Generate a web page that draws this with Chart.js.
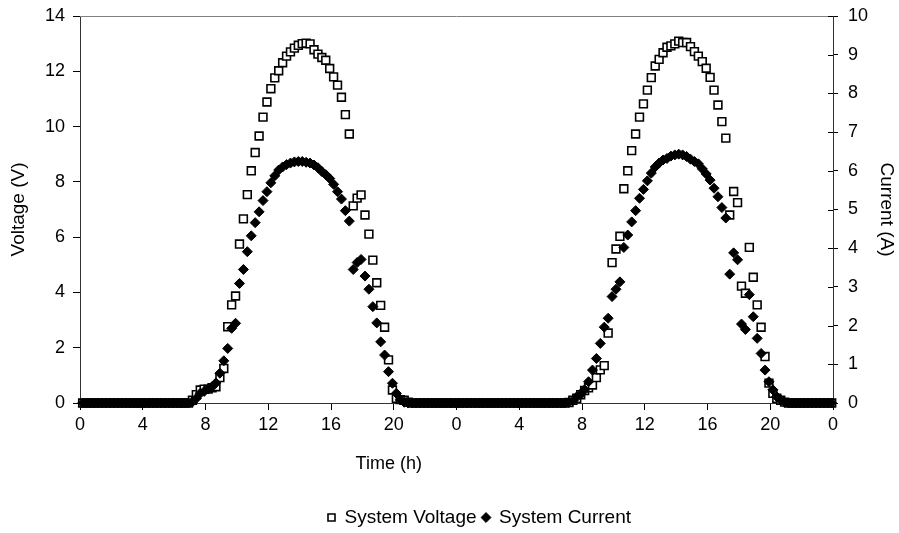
<!DOCTYPE html>
<html>
<head>
<meta charset="utf-8">
<script src="https://cdn.jsdelivr.net/npm/chart.js@4.4.1/dist/chart.umd.min.js"></script>
<style>
  html, body { margin: 0; padding: 0; background: #fff; }
  #wrap { width: 899px; height: 533px; }
</style>
</head>
<body>
<div id="wrap"><canvas id="chart" width="899" height="533"></canvas></div>
<script>
// ------------------ DATA ------------------
// logger samples every 15 min, first sample at 0:10, two days of readings
const firstSampleHour = 10 / 60;
const sampleStepHours = 0.25;

const voltageDay1 = [
  0, 0, 0, 0, 0, 0, 0, 0, 0, 0, 0, 0, 0, 0, 0, 0, 0, 0, 0, 0, 0, 0, 0, 0, 0, 0, 0, 0,
  0.1, 0.3, 0.47, 0.5, 0.5, 0.55, 0.59, 0.92, 1.25, 2.76, 3.55, 3.87, 5.75, 6.66,
  7.54, 8.4, 9.06, 9.66, 10.34, 10.89, 11.37, 11.76, 12.02, 12.31, 12.55, 12.7, 12.84, 12.94,
  13.0, 13.02, 12.99, 12.78, 12.62, 12.5, 12.4, 12.1, 11.8, 11.5, 11.06, 10.43, 9.73, 7.13,
  7.41, 7.53, 6.8, 6.11, 5.17, 4.35, 3.53, 2.74, 1.56, 0.47, 0.17, 0.12, 0.1, 0.03,
  0, 0, 0, 0, 0, 0, 0, 0, 0, 0, 0, 0
];
const currentDay1 = [
  0, 0, 0, 0, 0, 0, 0, 0, 0, 0, 0, 0, 0, 0, 0, 0, 0, 0, 0, 0, 0, 0, 0, 0, 0, 0, 0, 0,
  0.03, 0.12, 0.25, 0.3, 0.36, 0.42, 0.52, 0.77, 1.09, 1.41, 1.93, 2.06, 3.09, 3.45,
  3.91, 4.32, 4.66, 4.94, 5.23, 5.46, 5.69, 5.87, 6.02, 6.1, 6.16, 6.2, 6.23, 6.24,
  6.24, 6.22, 6.2, 6.15, 6.08, 5.98, 5.9, 5.8, 5.65, 5.46, 5.27, 4.97, 4.7, 3.45,
  3.63, 3.71, 3.28, 2.94, 2.49, 2.07, 1.58, 1.24, 0.81, 0.51, 0.25, 0.08, 0.02, 0,
  0, 0, 0, 0, 0, 0, 0, 0, 0, 0, 0, 0
];
const voltageDay2 = [
  0, 0, 0, 0, 0, 0, 0, 0, 0, 0, 0, 0, 0, 0, 0, 0, 0, 0, 0, 0, 0, 0, 0, 0, 0, 0, 0, 0,
  0.02, 0.1, 0.17, 0.3, 0.45, 0.55, 0.65, 0.92, 1.2, 1.35, 2.53, 5.08, 5.57, 6.03,
  7.75, 8.4, 9.13, 9.73, 10.34, 10.82, 11.32, 11.77, 12.19, 12.43, 12.67, 12.87, 12.92, 12.99,
  13.09, 13.04, 13.04, 12.89, 12.71, 12.55, 12.35, 12.11, 11.78, 11.32, 10.78, 10.18, 9.58, 6.8,
  7.65, 7.25, 4.23, 3.97, 5.63, 4.55, 3.55, 2.74, 1.68, 0.72, 0.35, 0.17, 0.1, 0.03,
  0, 0, 0, 0, 0, 0, 0, 0, 0, 0, 0, 0
];
const currentDay2 = [
  0, 0, 0, 0, 0, 0, 0, 0, 0, 0, 0, 0, 0, 0, 0, 0, 0, 0, 0, 0, 0, 0, 0, 0, 0, 0, 0, 0,
  0.02, 0.06, 0.16, 0.22, 0.34, 0.55, 0.85, 1.15, 1.54, 1.96, 2.19, 2.75, 2.94, 3.13,
  4.02, 4.34, 4.68, 4.97, 5.29, 5.52, 5.74, 5.94, 6.1, 6.2, 6.28, 6.32, 6.38, 6.41,
  6.43, 6.41, 6.37, 6.3, 6.24, 6.18, 6.05, 5.92, 5.76, 5.55, 5.33, 5.05, 4.78, 3.33,
  3.88, 3.7, 2.04, 1.9, 2.8, 2.23, 1.67, 1.28, 0.85, 0.55, 0.34, 0.16, 0.08, 0.02,
  0, 0, 0, 0, 0, 0, 0, 0, 0, 0, 0, 0
];

const xTicks = [0, 4, 8, 12, 16, 20, 24, 28, 32, 36, 40, 44, 48];
const voltageTicks = [0, 2, 4, 6, 8, 10, 12, 14];
const currentTicks = [0, 1, 2, 3, 4, 5, 6, 7, 8, 9, 10];

const seriesNames = ["System Voltage", "System Current"];
const xTitle = "Time (h)";

// ------------------ BUILD POINTS ------------------
const voltage = [...voltageDay1, ...voltageDay2];
const current = [...currentDay1, ...currentDay2];

function toPoints(values) {
  return values.map((v, i) => ({ x: firstSampleHour + i * sampleStepHours, y: v }));
}

const FONT_FAMILY = "'Liberation Sans', Arial, Helvetica, sans-serif";
const FONT = { family: FONT_FAMILY, size: 18 };
const TITLE_FONT = { family: FONT_FAMILY, size: 19 };
const LEGEND_FONT = { family: FONT_FAMILY, size: 19 };

// plot frame top line, inward half of right ticks, x title (sits left of centre like the original)
const frameLines = {
  id: "frameLines",
  afterLayout(chart) {
    // legend in the original sits a bit right of centre and lower
    chart.legend.left += 30;
    chart.legend.right += 30;
    chart.legend.top += 4;
    chart.legend.bottom += 4;
  },
  afterDraw(chart) {
    const { ctx, chartArea } = chart;
    const y1 = chart.scales.y1;
    ctx.save();
    ctx.strokeStyle = "#808080";
    ctx.lineWidth = 1;
    ctx.beginPath();
    ctx.moveTo(chartArea.left, chartArea.top + 0.5);
    ctx.lineTo(chartArea.right, chartArea.top + 0.5);
    ctx.stroke();
    ctx.strokeStyle = "#000";
    ctx.beginPath();
    currentTicks.forEach(t => {
      const py = Math.round(y1.getPixelForValue(t)) + 0.5;
      ctx.moveTo(chartArea.right - 5, py);
      ctx.lineTo(chartArea.right, py);
    });
    ctx.stroke();

    ctx.fillStyle = "#000";
    ctx.font = `${FONT.size}px ${FONT_FAMILY}`;
    ctx.textAlign = "center";
    ctx.textBaseline = "middle";
    ctx.fillText(xTitle, chartArea.left + (chartArea.right - chartArea.left) * 0.41, chartArea.bottom + 61);
    ctx.restore();
  }
};

function fitVertical(width) {
  return s => {
    s.width = width;
    s.paddingTop = 0;
    s.paddingBottom = 0;
  };
}

// ------------------ CHART ------------------
new Chart(document.getElementById("chart"), {
  type: "scatter",
  data: {
    datasets: [
      {
        label: seriesNames[0],
        data: toPoints(voltage),
        yAxisID: "y",
        pointStyle: "rect",
        pointRadius: 5.5,
        backgroundColor: "#fff",
        borderColor: "#000",
        borderWidth: 1.6,
        clip: false,
        order: 2,
      },
      {
        label: seriesNames[1],
        data: toPoints(current),
        yAxisID: "y1",
        pointStyle: "rectRot",
        pointRadius: 5,
        backgroundColor: "#000",
        borderColor: "#000",
        borderWidth: 1,
        clip: false,
        order: 1,
      },
    ],
  },
  options: {
    responsive: false,
    animation: false,
    events: [],
    layout: { padding: { top: 16, left: 0, right: 0, bottom: 0 } },
    plugins: {
      tooltip: { enabled: false },
      legend: {
        position: "bottom",
        labels: {
          usePointStyle: true,
          boxWidth: 7,
          boxHeight: 7,
          padding: 6,
          color: "#000",
          font: LEGEND_FONT,
          sort: (a, b) => a.datasetIndex - b.datasetIndex,
        },
      },
    },
    scales: {
      x: {
        type: "linear",
        min: 0,
        max: 48,
        afterBuildTicks: s => { s.ticks = xTicks.map(v => ({ value: v })); },
        afterFit: s => { s.height = 95; },
        ticks: { color: "#000", font: FONT, padding: 4, maxRotation: 0, callback: v => v % 24 },
        grid: { drawOnChartArea: false, tickLength: 7, color: "#000" },
        border: { color: "#333", width: 1 },
      },
      y: {
        position: "left",
        min: 0,
        max: 14,
        afterBuildTicks: s => { s.ticks = voltageTicks.map(v => ({ value: v })); },
        afterFit: fitVertical(80),
        ticks: { color: "#000", font: FONT, padding: 8 },
        grid: { drawOnChartArea: false, tickLength: 7, color: "#000" },
        border: { color: "#333", width: 1 },
        title: { display: true, text: "Voltage (V)", color: "#000", font: TITLE_FONT, padding: { top: 7, bottom: 0 } },
      },
      y1: {
        position: "right",
        min: 0,
        max: 10,
        afterBuildTicks: s => { s.ticks = currentTicks.map(v => ({ value: v })); },
        afterFit: fitVertical(66),
        ticks: { color: "#000", font: FONT, padding: 10 },
        grid: { drawOnChartArea: false, tickLength: 5, color: "#000" },
        border: { color: "#333", width: 1 },
        title: { display: true, text: "Current (A)", color: "#000", font: TITLE_FONT, padding: { top: 1, bottom: 0 } },
      },
    },
  },
  plugins: [frameLines],
});
</script>
</body>
</html>
